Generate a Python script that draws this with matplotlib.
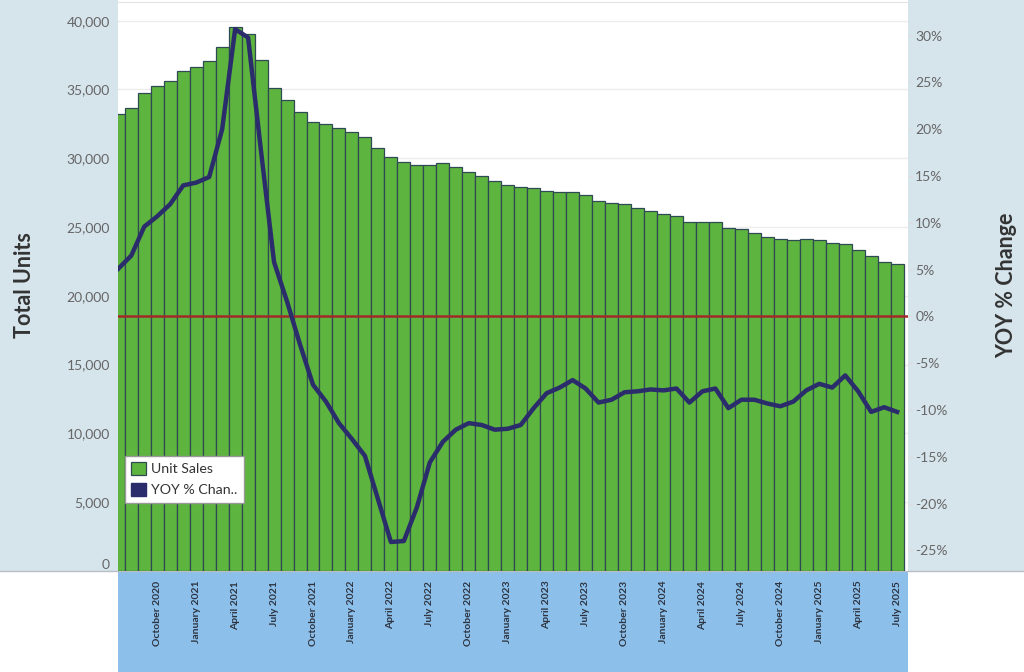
import numpy as np
import matplotlib
matplotlib.use("Agg")
import matplotlib.pyplot as plt
from matplotlib.patches import Rectangle, Patch

plt.rcParams["font.family"] = ["Lato", "DejaVu Sans"]

# monthly data, July 2020 .. July 2025
months = ["July 2020", "August 2020", "September 2020", "October 2020", "November 2020", "December 2020",
          "January 2021", "February 2021", "March 2021", "April 2021", "May 2021", "June 2021",
          "July 2021", "August 2021", "September 2021", "October 2021", "November 2021", "December 2021",
          "January 2022", "February 2022", "March 2022", "April 2022", "May 2022", "June 2022",
          "July 2022", "August 2022", "September 2022", "October 2022", "November 2022", "December 2022",
          "January 2023", "February 2023", "March 2023", "April 2023", "May 2023", "June 2023",
          "July 2023", "August 2023", "September 2023", "October 2023", "November 2023", "December 2023",
          "January 2024", "February 2024", "March 2024", "April 2024", "May 2024", "June 2024",
          "July 2024", "August 2024", "September 2024", "October 2024", "November 2024", "December 2024",
          "January 2025", "February 2025", "March 2025", "April 2025", "May 2025", "June 2025",
          "July 2025"]

unit_sales = [33200, 33690, 34710, 35240, 35650, 36380,
              36670, 37080, 38090, 39520, 39040, 37150,
              35100, 34220, 33350, 32640, 32480, 32170,
              31880, 31560, 30760, 30070, 29750, 29510,
              29510, 29680, 29340, 29020, 28710, 28350,
              28080, 27930, 27840, 27620, 27520, 27520,
              27310, 26890, 26770, 26680, 26410, 26170,
              25950, 25780, 25350, 25400, 25390, 24930,
              24840, 24550, 24280, 24140, 24040, 24140,
              24060, 23850, 23750, 23340, 22880, 22490,
              22320]

yoy_pct = [5.1, 6.5, 9.6, 10.7, 12.0, 14.0,
           14.3, 14.9, 20.0, 30.7, 29.8, 17.6,
           5.8, 1.6, -3.0, -7.3, -9.1, -11.4,
           -13.1, -14.9, -19.5, -24.1, -24.0, -20.4,
           -15.6, -13.4, -12.1, -11.4, -11.6, -12.1,
           -12.0, -11.6, -9.8, -8.2, -7.6, -6.8,
           -7.7, -9.2, -8.9, -8.1, -8.0, -7.8,
           -7.9, -7.7, -9.2, -8.0, -7.7, -9.8,
           -8.9, -8.9, -9.3, -9.6, -9.1, -7.9,
           -7.2, -7.6, -6.3, -8.0, -10.2, -9.7,
           -10.2]

left_ticks = [0, 5000, 10000, 15000, 20000, 25000, 30000, 35000, 40000]
right_ticks = [-25, -20, -15, -10, -5, 0, 5, 10, 15, 20, 25, 30]

W, H = 1024, 672
fig = plt.figure(figsize=(W / 100, H / 100), dpi=100)

side_col = "#d6e4ec"
# background panels (pixel boxes), kept behind the axes
fig.patches.append(Rectangle((0, 101 / H), 118.3 / W, 1 - 101 / H, transform=fig.transFigure,
                             facecolor=side_col, edgecolor="none", zorder=-5))
fig.patches.append(Rectangle((908.3 / W, 101 / H), 1 - 908.3 / W, 1 - 101 / H, transform=fig.transFigure,
                             facecolor=side_col, edgecolor="none", zorder=-5))
fig.patches.append(Rectangle((118.3 / W, 0), 790 / W, 101 / H, transform=fig.transFigure,
                             facecolor="#8cc0ea", edgecolor="none", zorder=-5))
fig.add_artist(plt.Line2D([0, 1], [101 / H, 101 / H], transform=fig.transFigure,
                          color="#b8bfc4", lw=1, zorder=-4))

ax = fig.add_axes([118.3 / W, 101 / H, 790 / W, 569 / H])
x = np.arange(len(months))

ax.bar(x, unit_sales, width=1.0, color="#5db43e", edgecolor="#2f4a55", linewidth=0.9, zorder=2)
ax.set_xlim(0, 60.86)
ax.set_ylim(0, 41360)
ax.set_yticks(left_ticks)
ax.set_yticklabels([f"{v:,}" for v in left_ticks])
ax.grid(axis="y", color="#ececec", lw=1, zorder=0)
ax.set_axisbelow(True)
for s in ax.spines.values():
    s.set_visible(False)
ax.spines["top"].set_visible(True)
ax.spines["top"].set_color("#e2e2e2")
ax.tick_params(axis="y", length=0, pad=6, labelsize=10, labelcolor="#666666")
ax.get_yticklabels()[0].set_verticalalignment("bottom")

tick_idx = list(range(3, len(months), 3))
ax.set_xticks(tick_idx)
ax.set_xticklabels([months[i] for i in tick_idx], rotation=90, fontsize=7.5,
                   fontweight="bold", color="#2d3340")
ax.tick_params(axis="x", length=0, pad=7)

ax2 = ax.twinx()
ax2.set_ylim(-27.2, 33.6)
ax2.axhline(0, color="#a32a28", lw=1.8, zorder=3)
ax2.plot(x, yoy_pct, color="#2b2c6b", lw=3.2, solid_joinstyle="round", zorder=4)
ax2.set_yticks(right_ticks)
ax2.set_yticklabels([f"{v}%" for v in right_ticks])
ax2.tick_params(axis="y", length=3, color="#dddddd", pad=2, labelsize=10, labelcolor="#666666")
for s in ax2.spines.values():
    s.set_visible(False)

fig.text(25 / W, 1 - 285 / H, "Total Units", rotation=90, ha="center", va="center",
         fontsize=15.5, fontweight="bold", color="#333333")
fig.text(1007 / W, 1 - 285 / H, "YOY % Change", rotation=90, ha="center", va="center",
         fontsize=15.5, fontweight="bold", color="#333333")

handles = [Patch(facecolor="#5db43e", edgecolor="#2f4a55", lw=0.9),
           Patch(facecolor="#2b2c6b", edgecolor="#2b2c6b")]
leg = ax2.legend(handles, ["Unit Sales", "YOY % Chan.."], loc="lower left",
                 bbox_to_anchor=(0.0085, 0.12), borderaxespad=0, fontsize=10.2,
                 handlelength=1.0, handleheight=1.0, handletextpad=0.4,
                 fancybox=False, framealpha=1, edgecolor="#999999",
                 borderpad=0.45, labelspacing=0.55)
leg.get_frame().set_linewidth(1.0)
for t in leg.get_texts():
    t.set_color("#333333")

fig.savefig("out.png", dpi=100)
